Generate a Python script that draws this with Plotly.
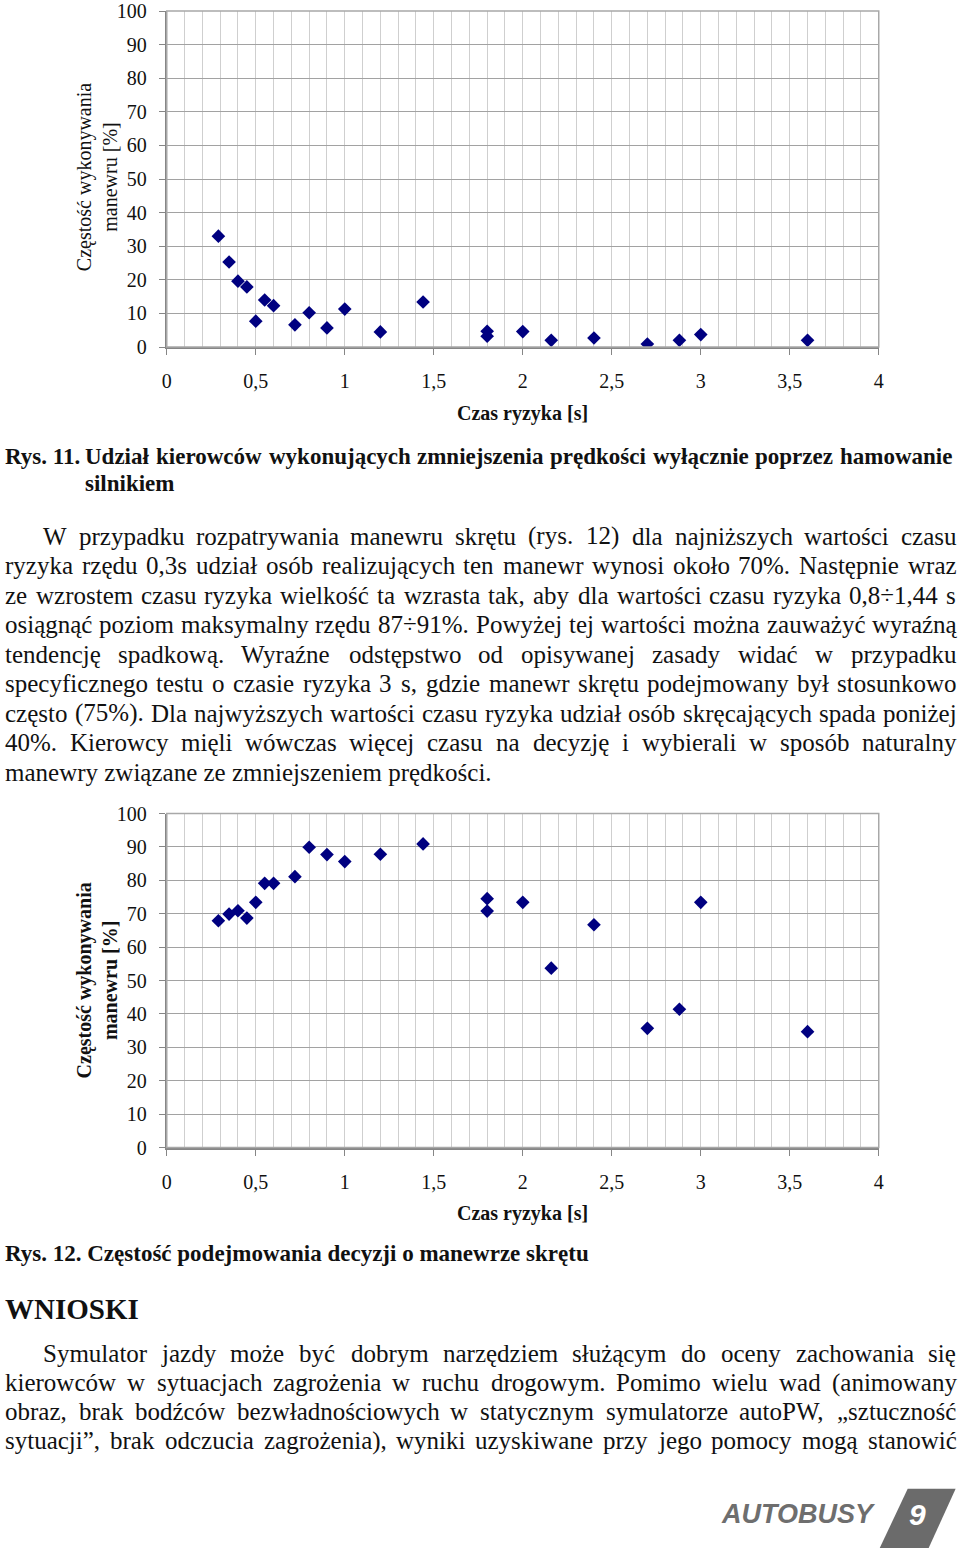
import plotly.graph_objects as go

W, H = 960, 1559

# values (same risk times in both)
risk_time = [0.29, 0.35, 0.40, 0.45, 0.50, 0.55, 0.60, 0.72, 0.80, 0.90, 1.00,
             1.20, 1.44, 1.80, 1.80, 2.00, 2.16, 2.40, 2.70, 2.88, 3.00, 3.60]
engine_braking_share = [33.0, 25.3, 19.6, 17.9, 7.7, 14.0, 12.3, 6.6, 10.2, 5.7, 11.3,
                        4.5, 13.4, 4.7, 3.2, 4.6, 2.0, 2.7, 0.9, 2.0, 3.7, 2.0]
turn_decision_share = [67.9, 69.9, 70.9, 68.7, 73.4, 79.1, 79.1, 81.1, 89.9, 87.7, 85.6,
                       87.8, 90.9, 74.5, 70.8, 73.4, 53.7, 66.7, 35.7, 41.4, 73.4, 34.7]

x_ticks = [0, 0.5, 1, 1.5, 2, 2.5, 3, 3.5, 4]
x_tick_text = ["0", "0,5", "1", "1,5", "2", "2,5", "3", "3,5", "4"]
y_ticks = list(range(0, 101, 10))

y_title = "Częstość wykonywania<br>manewru [%]"
x_title = "Czas ryzyka [s]"

caption_11_label = "Rys. 11."
caption_11_lines = ["Udział kierowców wykonujących zmniejszenia prędkości wyłącznie poprzez hamowanie",
                    "silnikiem"]
para_1 = [
    "W przypadku rozpatrywania manewru skrętu (rys. 12) dla najniższych wartości czasu",
    "ryzyka rzędu 0,3s udział osób realizujących ten manewr wynosi około 70%. Następnie wraz",
    "ze wzrostem czasu ryzyka wielkość ta wzrasta tak, aby dla wartości czasu ryzyka 0,8÷1,44 s",
    "osiągnąć poziom maksymalny rzędu 87÷91%. Powyżej tej wartości można zauważyć wyraźną",
    "tendencję spadkową. Wyraźne odstępstwo od opisywanej zasady widać w przypadku",
    "specyficznego testu o czasie ryzyka 3 s, gdzie manewr skrętu podejmowany był stosunkowo",
    "często (75%). Dla najwyższych wartości czasu ryzyka udział osób skręcających spada poniżej",
    "40%. Kierowcy mięli wówczas więcej czasu na decyzję i wybierali w sposób naturalny",
    "manewry związane ze zmniejszeniem prędkości.",
]
caption_12 = "Rys. 12. Częstość podejmowania decyzji o manewrze skrętu"
heading = "WNIOSKI"
para_2 = [
    "Symulator jazdy może być dobrym narzędziem służącym do oceny zachowania się",
    "kierowców w sytuacjach zagrożenia w ruchu drogowym. Pomimo wielu wad (animowany",
    "obraz, brak bodźców bezwładnościowych w statycznym symulatorze autoPW, „sztuczność",
    "sytuacji”, brak odczucia zagrożenia), wyniki uzyskiwane przy jego pomocy mogą stanowić",
]

SERIF = "Liberation Serif, Times New Roman, serif"
NAVY = "#000080"
BODY, CAPTION = 25, 23

# the photo of the page comes out slightly shrunk and shifted; undo that so
# positions measured on the reference land where they should
AX, BX, AY, BY = 0.991, 4.0, 0.9855, 10.8


def fx(px):
    return max((px - BX) / AX, 0) / W


def fy(py):
    return 1 - min(max((py - BY) / AY, 0), H) / H


# rough Times metrics (1/1000 em) so the paragraphs can be justified
_lo = "abcdefghijklmnopqrstuvwxyz"
_up = "ABCDEFGHIJKLMNOPQRSTUVWXYZ"
REG = dict(zip(_lo, [444, 500, 444, 500, 444, 333, 500, 500, 278, 278, 500, 278, 778,
                     500, 500, 500, 500, 333, 389, 278, 500, 500, 722, 500, 500, 444]))
REG.update(zip(_up, [722, 667, 667, 722, 611, 556, 722, 722, 333, 389, 722, 611, 889,
                     722, 722, 556, 722, 667, 556, 611, 722, 722, 944, 722, 722, 611]))
BOLD = dict(zip(_lo, [500, 556, 444, 556, 444, 333, 500, 556, 278, 333, 556, 278, 833,
                      556, 500, 556, 556, 444, 389, 333, 556, 500, 722, 500, 500, 444]))
BOLD.update(zip(_up, [722, 667, 722, 722, 667, 611, 778, 778, 389, 500, 778, 667, 944,
                      722, 778, 611, 778, 722, 556, 667, 722, 722, 1000, 722, 722, 667]))
for t in (REG, BOLD):
    t.update({" ": 250, ",": 250, ".": 250, "(": 333, ")": 333, "%": 833, "÷": 564,
              "„": 444, "”": 444, "-": 333, "[": 333, "]": 333})
    for d in "0123456789":
        t[d] = 500
PL = {"ą": "a", "ć": "c", "ę": "e", "ł": "l", "ń": "n", "ó": "o", "ś": "s", "ź": "z",
      "ż": "z", "Ł": "L", "Ś": "S", "Ż": "Z"}


def text_width(s, size, bold=False):
    # width as it shows up in the photo
    t = BOLD if bold else REG
    return sum(t.get(PL.get(c, c), 500) for c in s) * size / 1000 * AX


annotations = []


def px_text(text, x, y, size, bold=False, anchor="left", color="#111", **kw):
    font = dict(family=SERIF, size=size, color=color)
    if bold:
        font["weight"] = 700
    annotations.append(dict(text=text, x=fx(x), y=fy(y), xref="paper", yref="paper",
                            xanchor=anchor, yanchor="middle", showarrow=False,
                            borderpad=0, borderwidth=0, font=font, **kw))


def put_line(text, y, x0, x1, size, bold=False, justify=True):
    x0 = max(x0, BX)  # nothing can sit left of the page edge
    words = text.split()
    if not justify or len(words) < 2:
        px_text(text, x0, y, size, bold)
        return
    widths = [text_width(w, size, bold) for w in words]
    gap = (x1 - x0 - sum(widths)) / (len(words) - 1)
    x = x0
    for w, wd in zip(words, widths):
        px_text(w, x, y, size, bold)
        x += wd + gap


fig = go.Figure()
fig.add_trace(go.Scatter(x=risk_time, y=engine_braking_share, mode="markers",
                         marker=dict(symbol="diamond", size=10.5, color=NAVY),
                         xaxis="x", yaxis="y", showlegend=False))
fig.add_trace(go.Scatter(x=risk_time, y=turn_decision_share, mode="markers",
                         marker=dict(symbol="diamond", size=10.5, color=NAVY),
                         xaxis="x2", yaxis="y2", showlegend=False))

x_dom = [fx(166), fx(879)]
charts = [("", 7.3, 346.7, False), ("2", 813.0, 1146.9, True)]
axes = {}
for suf, top, bottom, bold_title in charts:
    axes["xaxis" + suf] = dict(
        domain=x_dom, range=[0, 4], tickvals=x_ticks, ticktext=x_tick_text,
        showgrid=True, gridcolor="#cfcfcf", gridwidth=1,
        minor=dict(dtick=0.1, showgrid=True, gridcolor="#cfcfcf", gridwidth=1),
        showline=True, linecolor="#868686", linewidth=2,
        ticks="outside", ticklen=6, tickcolor="#868686", ticklabelstandoff=9,
        zeroline=False, tickfont=dict(family=SERIF, size=20, color="#111"),
        anchor="y" + suf, fixedrange=True)
    axes["yaxis" + suf] = dict(
        domain=[fy(bottom), fy(top)], range=[0, 100], tickvals=y_ticks,
        showgrid=True, gridcolor="#a2a2a2", gridwidth=1,
        showline=True, linecolor="#868686", linewidth=2,
        ticks="outside", ticklen=6, tickcolor="#868686", ticklabelstandoff=8,
        zeroline=False, tickfont=dict(family=SERIF, size=20, color="#111"),
        anchor="x" + suf, fixedrange=True)
    mid = (top + bottom) / 2
    px_text(y_title, 96, mid, 20, bold=bold_title, anchor="center", textangle=-90)
    px_text(x_title, 522, bottom + 66, 20, bold=True, anchor="center")

# top and right frame of each plot area
shapes = []
for suf in ("", "2"):
    shapes.append(dict(type="rect", xref=f"x{suf} domain", yref=f"y{suf} domain",
                       x0=0, x1=1, y0=0, y1=1, line=dict(color="#a8a8a8", width=1.5)))

# text of the page
px_text(caption_11_label, 0, 456, CAPTION, bold=True)
put_line(caption_11_lines[0], 456, 84, 952, CAPTION, bold=True)
px_text(caption_11_lines[1], 84, 483, CAPTION, bold=True)

for i, line in enumerate(para_1):
    y = 536 + 29.5 * i
    x0 = 42 if i == 0 else 0
    put_line(line, y, x0, 956, BODY, justify=(i < len(para_1) - 1))

px_text(caption_12, 0, 1253, CAPTION, bold=True)
px_text(heading, 0, 1308, 29, bold=True)
for i, line in enumerate(para_2):
    y = 1353 + 29 * i
    x0 = 42 if i == 0 else 0
    put_line(line, y, x0, 956, BODY)

# journal footer mark
shapes.append(dict(type="path", xref="paper", yref="paper",
                   path=f"M {fx(908)} {fy(1488)} L {fx(956)} {fy(1488)} "
                        f"L {fx(929)} {fy(1559)} L {fx(880)} {fy(1559)} Z",
                   fillcolor="#6b6b6b", line=dict(width=0)))
annotations.append(dict(text="AUTOBUSY", x=fx(878), y=fy(1513), xref="paper",
                        yref="paper", xanchor="right", yanchor="middle", showarrow=False,
                        font=dict(family="Liberation Sans, Arial, sans-serif", size=27,
                                  color="#6e6e6e", weight=700, style="italic")))
annotations.append(dict(text="9", x=fx(918), y=fy(1514), xref="paper", yref="paper",
                        xanchor="center", yanchor="middle", showarrow=False,
                        font=dict(family="Liberation Sans, Arial, sans-serif", size=30,
                                  color="white", weight=700, style="italic")))

fig.update_layout(width=W, height=H, margin=dict(l=0, r=0, t=0, b=0),
                  paper_bgcolor="white", plot_bgcolor="white",
                  annotations=annotations, shapes=shapes, **axes)

# pin the figure to the top-left corner of the page (no body margin)
pin = ("document.body.style.margin='0';"
       "var gd=document.getElementById('{plot_id}');"
       "gd.style.position='absolute';gd.style.left='0px';gd.style.top='0px';")
fig.write_html("out.html", post_script=pin, config={"displayModeBar": False})
